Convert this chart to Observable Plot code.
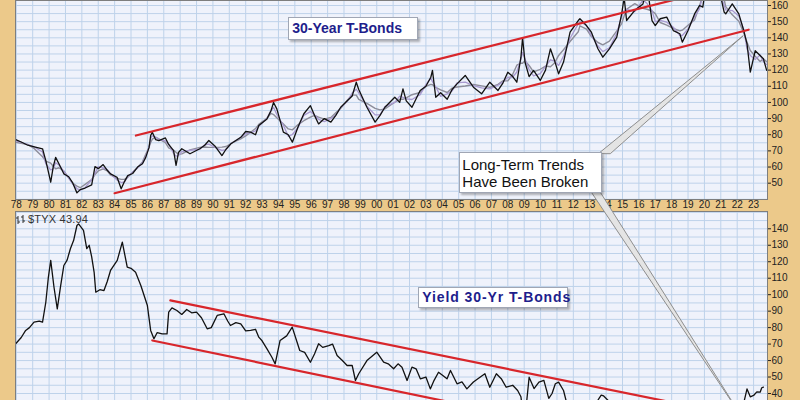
<!DOCTYPE html>
<html><head><meta charset="utf-8">
<script src="https://cdn.jsdelivr.net/npm/d3@7"></script>
<script src="https://cdn.jsdelivr.net/npm/@observablehq/plot@0.6"></script>
<style>
html,body{margin:0;padding:0}
body{background:#ecc98a;width:800px;height:400px;overflow:hidden;position:relative;font-family:"Liberation Sans",Arial,sans-serif}
#top,#bot,#ovl{position:absolute;left:0}
#top{top:0}
#bot{top:211px}
#ovl{top:0;pointer-events:none}
.box{position:absolute;background:#fff;border:1px solid #a0a6b4;box-shadow:2px 2px 2px rgba(0,0,0,0.28);white-space:nowrap;box-sizing:border-box}
.title{color:#1e1e8c;font-weight:bold;padding:0 0 0 3px;font-size:14px}
#callout{color:#111;font-size:15px;line-height:17px;padding:3px 2px 2px 2px}
#sym{position:absolute;left:28px;top:213px;font-size:11px;color:#333;letter-spacing:0.2px}
</style></head>
<body>
<div id="top"></div>
<div id="bot"></div>
<svg id="ovl" width="800" height="400"></svg>
<div id="sym">$TYX 43.94</div>
<div class="box title" id="t1">30-Year T-Bonds</div>
<div class="box title" id="t2">Yield 30-Yr T-Bonds</div>
<div class="box" id="callout">Long-Term Trends<br>Have Been Broken</div>
<script>
// ---- data: 30-year T-bond price (top panel) ----
const priceYears = [1977.96,1978.3,1978.7,1979.1,1979.6,1979.8,1980.1,1980.25,1980.4,1980.6,1980.9,1981.2,1981.45,1981.7,1981.9,1982.2,1982.6,1982.8,1983.0,1983.3,1983.55,1983.75,1984.15,1984.4,1984.6,1984.8,1985.1,1985.4,1985.7,1985.9,1986.1,1986.2,1986.3,1986.5,1986.7,1987.1,1987.3,1987.6,1987.75,1987.9,1988.1,1988.6,1989.2,1989.5,1989.75,1990.15,1990.55,1990.8,1991.1,1991.7,1992.0,1992.3,1992.6,1992.8,1993.3,1993.55,1993.7,1993.9,1994.3,1994.6,1994.85,1995.2,1995.55,1995.95,1996.2,1996.45,1996.8,1997.2,1997.5,1997.8,1998.2,1998.5,1998.75,1998.9,1999.4,1999.9,2000.2,2000.5,2001.1,2001.4,2001.6,2001.8,2002.15,2002.65,2003.0,2003.3,2003.4,2003.6,2003.9,2004.3,2004.6,2004.9,2005.4,2005.9,2006.4,2006.9,2007.4,2007.7,2008.0,2008.3,2008.55,2008.8,2008.9,2009.05,2009.3,2009.57,2009.98,2010.3,2010.6,2010.85,2011.1,2011.4,2011.8,2012.3,2012.4,2012.8,2013.1,2013.5,2013.8,2014.2,2014.65,2014.95,2015.1,2015.25,2015.75,2016.25,2016.5,2016.8,2017.0,2017.3,2017.7,2018.1,2018.5,2018.65,2019.0,2019.4,2019.7,2019.9,2020.2,2020.6,2020.9,2021.2,2021.3,2021.7,2022.1,2022.4,2022.6,2022.8,2023.1,2023.4,2023.6,2023.8];
const priceValues = [77,75.5,73.5,72.5,71.3,64,50.6,60,66,62,55.8,54,50,44,46,47,49,60.3,59,61.5,58,55.8,53.7,46.5,51,54.7,56,60,62,66,72,79.5,81.6,77,76.4,78,74,70.2,61,69,71.3,68.2,71.3,73.5,76.4,72.7,67.1,71,74.4,78.4,82,81.6,80,85.7,89.8,95,100,96,81.6,80,75.4,85,93,98,92,86.7,90,87.8,92,97,101,104,112.5,108,97,87.8,92,97,103.2,100,108.4,101,97,107.4,110,115.6,119.8,103.2,106,102,108,111.5,116.7,109.4,105.3,112.5,107.4,112,118.7,116,112.5,128,140,124.9,116,119.8,113.6,120,133.2,126,117.7,125,143.5,150.7,151.8,147.6,143.5,133.2,128,133.2,140.4,154.8,165,150.7,157,161,172,150.7,147.6,151.8,152.8,144.5,142.5,137.3,144.5,154.8,160,159,180,178,170,156,154.8,161,154.8,144.5,136.3,118.7,132,129,127,119.8];

// ---- data: 30-year yield x10 ($TYX, bottom panel) ----
const yieldYears = [1977.96,1978.3,1978.57,1978.8,1979.08,1979.4,1979.6,1979.8,1979.95,1980.1,1980.3,1980.5,1980.7,1980.9,1981.1,1981.3,1981.5,1981.7,1981.8,1982.1,1982.3,1982.45,1982.6,1982.75,1982.85,1983.1,1983.35,1983.55,1983.75,1984.16,1984.47,1984.77,1985.0,1985.28,1985.6,1986.0,1986.2,1986.4,1986.6,1986.9,1987.2,1987.3,1987.5,1987.8,1988.1,1988.4,1988.7,1989.0,1989.3,1989.65,1989.9,1990.26,1990.67,1990.9,1991.07,1991.4,1991.7,1992.0,1992.3,1992.6,1992.8,1993.0,1993.3,1993.6,1993.8,1994.1,1994.5,1994.84,1995.3,1995.6,1995.95,1996.2,1996.45,1996.7,1997.07,1997.3,1997.58,1997.9,1998.19,1998.5,1998.7,1998.9,1999.4,2000.0,2000.42,2000.7,2001.03,2001.3,2001.54,2001.85,2002.15,2002.4,2002.66,2003.0,2003.27,2003.5,2003.77,2004.29,2004.5,2004.9,2005.2,2005.5,2005.9,2006.3,2006.6,2006.9,2007.3,2007.6,2007.9,2008.3,2008.6,2008.8,2008.95,2009.15,2009.3,2009.6,2009.9,2010.2,2010.5,2010.7,2010.9,2011.1,2011.4,2011.6,2011.8,2012.5,2013.0,2013.5,2013.7,2013.85,2014.3,2015.0,2015.5,2016.5,2016.9,2018.0,2018.8,2019.4,2020.25,2021.0,2021.3,2021.9,2022.3,2022.6,2022.8,2023.0,2023.2,2023.4,2023.5,2023.6];
const yieldValues = [70.2,74,78.3,80,83.3,84,83.3,95.4,110,120.8,104.5,91.4,105,117.7,121,127.9,133,142,143,139,128,130,123,113.6,101.5,103,102.5,108,114.7,120.8,131.9,116.7,116,113.6,105.6,93.4,78.3,73.2,77,76.2,76.2,89.4,92,90.4,88,91,89,89.4,86,79.3,80,87.4,88.4,84,81.3,83,82.3,78,78.3,79,74.2,72,67.1,62,58,72.2,75,80.3,66.1,65,59,64,70.2,68,69.1,70,63.1,60,57,57,47.9,52,60,65.1,59,58,55,58,56,47.9,56,55,48.9,50,42.8,48,52.9,48.9,54,45.9,47,42.8,47,49.9,52,43.8,52,49,43.8,45,41.8,38,26,35,49.9,43,46.9,48,37,40,45.9,46.9,41.8,34,29,25,31,36,39,38.5,34,24,30,22,31,28,33,26,12,19,24,20,30,42.8,38,38.8,41,40.8,43.5,43.9];

// ---- trend lines (endpoints) ----
const bondUpperX = [1985.3, 2019.0], bondUpperY = [79.5, 165.7];
const bondLowerX = [1984.0, 2022.7], bondLowerY = [43.8, 145.0];
const yieldUpperX = [1987.4, 2020.0], yieldUpperY = [96.5, 30.6];
const yieldLowerX = [1986.3, 2006.0], yieldLowerY = [72.2, 31.6];

// ---- axes ----
const yearTicks = d3.range(1978, 2024);
const bondTicks = d3.range(50, 161, 10);
const yieldTicks = d3.range(40, 141, 10);

// ---- annotation anchors (data coordinates) ----
const bondBreak = {year: 2022.4, value: 141};
const yieldBreak = {year: 2022.3, value: 25.7};
const calloutAnchor = {year: 2005.07, value: 69.2};
const title1Anchor = {year: 1994.63, value: 152.4};
const title2Anchor = {year: 2002.57, value: 104.5};

const priceData = priceYears.map((year, i) => ({year, value: priceValues[i]}));
const yieldData = yieldYears.map((year, i) => ({year, value: yieldValues[i]}));
const pairs = (xs, ys) => xs.map((x, i) => ({year: x, value: ys[i]}));

const xDomain = [1977.95, 2023.85];
const bg = "#eff2fb", grid = "#bed2ea", red = "#d8262b";
const style = {background: "transparent", fontFamily: "Liberation Sans, Arial, sans-serif", fontSize: "10px", color: "#222", overflow: "visible"};

const topPlot = Plot.plot({
  width: 800, height: 211, marginLeft: 15, marginRight: 33, marginTop: 0, marginBottom: 12,
  x: {domain: xDomain}, y: {domain: [39.9, 163.1]}, style,
  marks: [
    Plot.frame({fill: bg}),
    Plot.gridY(d3.range(40, 165, 5), {stroke: grid, strokeOpacity: 1}),
    Plot.gridX(yearTicks, {stroke: grid, strokeOpacity: 1}),
    Plot.axisY(bondTicks, {anchor: "right", tickSize: 3, tickPadding: 1, label: null}),
    Plot.axisX(yearTicks, {anchor: "bottom", tickSize: 0, tickPadding: 1, label: null, tickFormat: d => String(d % 100).padStart(2, "0")}),
    Plot.line(priceData, Plot.windowY({k: 5, anchor: "middle"}, {x: "year", y: "value", stroke: "#8d8d9a", strokeWidth: 1.4, clip: true})),
    Plot.line(priceData, Plot.windowY({k: 3, anchor: "middle"}, {x: "year", y: "value", stroke: "#a99ad0", strokeWidth: 1.3, clip: true})),
    Plot.line(priceData, {x: "year", y: "value", stroke: "#111", strokeWidth: 1.3, clip: true}),
    Plot.line(pairs(bondUpperX, bondUpperY), {x: "year", y: "value", stroke: red, strokeWidth: 2.2, clip: true}),
    Plot.line(pairs(bondLowerX, bondLowerY), {x: "year", y: "value", stroke: red, strokeWidth: 2.2, clip: true}),
    Plot.frame({stroke: "#7e7e7e"})
  ]
});
document.getElementById("top").append(topPlot);

const botPlot = Plot.plot({
  width: 800, height: 189, marginLeft: 15, marginRight: 33, marginTop: 0, marginBottom: 0,
  x: {domain: xDomain, axis: null}, y: {domain: [35.75, 150.5]}, style,
  marks: [
    Plot.frame({fill: bg}),
    Plot.gridY(d3.range(40, 151, 5), {stroke: grid, strokeOpacity: 1}),
    Plot.gridX(yearTicks, {stroke: grid, strokeOpacity: 1}),
    Plot.axisY(yieldTicks, {anchor: "right", tickSize: 3, tickPadding: 1, label: null}),
    Plot.line(yieldData, {x: "year", y: "value", stroke: "#111", strokeWidth: 1.3, clip: true}),
    Plot.line(pairs(yieldUpperX, yieldUpperY), {x: "year", y: "value", stroke: red, strokeWidth: 2.2, clip: true}),
    Plot.line(pairs(yieldLowerX, yieldLowerY), {x: "year", y: "value", stroke: red, strokeWidth: 2.2, clip: true}),
    Plot.frame({stroke: "#7e7e7e"})
  ]
});
document.getElementById("bot").append(botPlot);

// ---- annotations positioned through the plots' scales ----
const tx = topPlot.scale("x"), ty = topPlot.scale("y"), by = botPlot.scale("y");
const BOT_OFF = 211;
function place(id, x, y, w, h) {
  const el = document.getElementById(id);
  el.style.left = x + "px"; el.style.top = y + "px";
  el.style.width = w + "px"; el.style.height = h + "px"; el.style.lineHeight = (h - 2) + "px";
  el.style.zIndex = 2;
  return el;
}
place("t1", tx.apply(title1Anchor.year), ty.apply(title1Anchor.value), 130, 23);
const t2 = place("t2", tx.apply(title2Anchor.year), by.apply(title2Anchor.value) + BOT_OFF, 150, 21);
t2.style.letterSpacing = "0.9px";
const cx = tx.apply(calloutAnchor.year), cy = ty.apply(calloutAnchor.value);
const co = place("callout", cx, cy, 143, 41);
co.style.lineHeight = "17px";

const svg = d3.select("#ovl");
const tip1 = [tx.apply(bondBreak.year), ty.apply(bondBreak.value)];
const tip2 = [tx.apply(yieldBreak.year), by.apply(yieldBreak.value) + BOT_OFF];
const right = cx + 143, bottom = cy + 41;
svg.append("polygon").attr("points", [[right - 4, cy + 2], [right + 8, cy + 2], tip1].map(p => p.join(",")).join(" "))
  .attr("fill", "#e4e4e4").attr("stroke", "#8e8e8e").attr("stroke-width", 1);
svg.append("polygon").attr("points", [[right - 12, bottom - 2], [right - 3, bottom - 2], tip2].map(p => p.join(",")).join(" "))
  .attr("fill", "#e4e4e4").attr("stroke", "#8e8e8e").attr("stroke-width", 1);
// small OHLC symbol icon before $TYX
const ic = svg.append("g").attr("stroke", "#333").attr("stroke-width", 1);
[[18, 216, 224], [23, 215, 223]].forEach(([x, y1, y2]) => {
  ic.append("line").attr("x1", x).attr("x2", x).attr("y1", y1).attr("y2", y2);
  ic.append("line").attr("x1", x - 2).attr("x2", x).attr("y1", y1 + 2).attr("y2", y1 + 2);
  ic.append("line").attr("x1", x).attr("x2", x + 2).attr("y1", y2 - 2).attr("y2", y2 - 2);
});
</script>
</body></html>
